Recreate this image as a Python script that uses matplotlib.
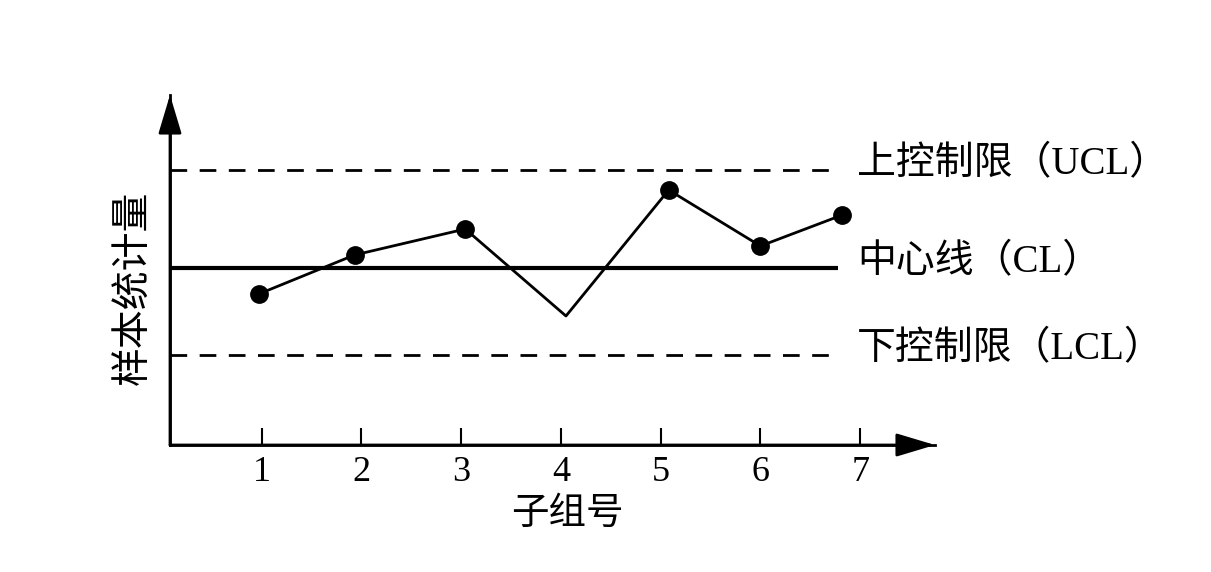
import matplotlib
matplotlib.use("Agg")
import matplotlib.pyplot as plt

# ---- data ----
subgroups = [1, 2, 3, 4, 5, 6, 7]
x_pos = [0.97, 1.93, 3.04, 4.05, 5.08, 6.00, 6.82]
values = [15.1, 19.0, 21.6, 12.9, 25.5, 19.9, 23.0]
marked = [0, 1, 2, 4, 5, 6]          # point 4 drawn without a marker
UCL, CL, LCL = 27.5, 17.7, 9.0
line_start, line_end = 0.08, 6.78
tick_labels = ["1", "2", "3", "4", "5", "6", "7"]
limit_labels = ["上控制限（UCL）", "中心线（CL）", "下控制限（LCL）"]
xlabel = "子组号"
ylabel = "样本统计量"

FAM = ["Liberation Serif", "Noto Sans CJK SC", "DejaVu Sans"]

W, H = 1211, 572
fig = plt.figure(figsize=(W / 100, H / 100), dpi=100)
x0, x1, y0, y1 = 170, 935, 445, 95
ax = fig.add_axes([x0 / W, 1 - y0 / H, (x1 - x0) / W, (y0 - y1) / H])
xmin, xmax, ymin, ymax = 0.08, 7.75, 0, 35
ax.set_xlim(xmin, xmax)
ax.set_ylim(ymin, ymax)

for s in ["top", "right"]:
    ax.spines[s].set_visible(False)
for s in ["left", "bottom"]:
    ax.spines[s].set_linewidth(2.0)

# arrow heads
ap = dict(arrowstyle="-|>,head_length=0.4,head_width=0.12", mutation_scale=60,
          lw=2.0, color="black", shrinkA=0, shrinkB=0)
ax.annotate("", xy=(xmax, 0), xytext=(xmin, 0), arrowprops=ap, annotation_clip=False)
ax.annotate("", xy=(xmin, ymax), xytext=(xmin, 0), arrowprops=ap, annotation_clip=False)

# control lines
ax.plot([line_start, line_end], [UCL, UCL], color="black", lw=2.0, dashes=(6, 4.5))
ax.plot([line_start, line_end], [LCL, LCL], color="black", lw=2.0, dashes=(6, 4.5))
ax.plot([line_start, line_end], [CL, CL], color="black", lw=3.0, solid_capstyle="butt")

# data
ax.plot(x_pos, values, color="black", lw=2.0, marker="o", markersize=12.5,
        markevery=marked)

# ticks
ax.set_xticks(subgroups)
ax.set_xticklabels(tick_labels, family=FAM, fontsize=26)
ax.tick_params(axis="x", direction="in", length=12, width=1.5, pad=8)
ax.set_yticks([])

# limit labels
for lab, yv in zip(limit_labels, [UCL, CL, LCL]):
    ax.annotate(lab, xy=(6.97, yv), xytext=(0, 4), textcoords="offset points",
                ha="left", va="center", family=FAM, fontsize=28,
                annotation_clip=False)

ax.set_xlabel(xlabel, family=FAM, fontsize=27)
ax.xaxis.set_label_coords((567 - x0) / (x1 - x0), -(515 - y0) / (y0 - y1))
ax.xaxis.label.set_va("center")
ax.set_ylabel(ylabel, family=FAM, fontsize=28)
ax.yaxis.label.set_va("center")
ax.yaxis.set_label_coords((135 - x0) / (x1 - x0), (y0 - 288) / (y0 - y1))

fig.savefig("out.png", dpi=100)
